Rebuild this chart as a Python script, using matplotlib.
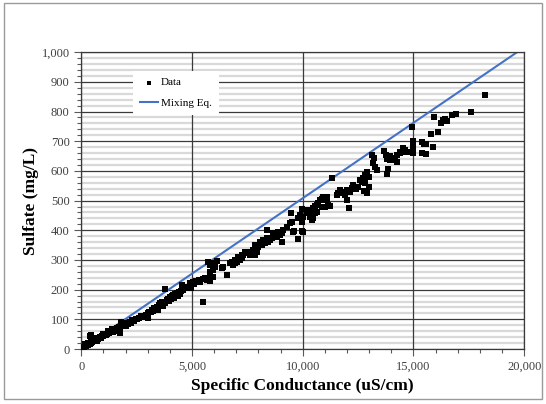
import numpy as np
import matplotlib.pyplot as plt
from matplotlib.patches import Rectangle

plt.rcParams['font.family'] = ['Liberation Serif', 'DejaVu Serif']

# specific conductance (uS/cm) and sulfate (mg/L)
cond = [50, 80, 100, 120, 150, 180, 200, 220, 250, 280, 300, 320, 350, 380, 400, 420,
        450, 480, 500, 520, 550, 600, 620, 650, 700, 720, 750, 800, 850, 900, 950, 1000,
        1050, 1100, 1150, 1200, 1250, 1300, 1350, 1400, 1450, 1500, 1550, 1600, 1650,
        1700, 1750, 1800, 1850, 1900, 1950, 2000,
        150, 300, 500, 700, 900, 1200, 1400, 1600, 1750, 1800, 1850, 400, 450, 1000, 1100, 2000,
        2100, 2200, 2250, 2300, 2400, 2450, 2500, 2600, 2700, 2800, 2900, 3000, 3000, 3050,
        3150, 3200, 3250, 3300, 3400, 3450, 3500, 3550, 3600, 3650, 3700, 3750, 3800, 3770,
        3850, 3900, 3950, 4000, 4050,
        4100, 4150, 4200, 4250, 4300, 4350, 4400, 4450, 4550, 4500, 4600, 4700, 4750, 4880,
        4960, 4900, 5000, 5050, 5100, 5200, 5300, 5350, 5500, 5580, 5660, 5730, 5800, 5500,
        5730, 5800, 5880, 5960, 5820, 6030, 6110, 5890, 5960,
        6330, 6410, 6590, 6710, 6790, 6860, 6940, 6940, 7040, 7090, 7160, 7240, 7390, 7470,
        7090, 7240, 7310, 7390, 7160, 7620, 7690, 7770, 7840, 7840, 7920, 7990, 8070, 8150,
        8220, 8290, 8370, 8370, 8440, 8520, 8600, 8670, 8820, 8900, 8970, 9050, 9050, 9120,
        9270, 9420, 9470, 9500, 9570, 9620, 9780, 9800, 9800, 9880, 9950, 9950, 9980, 10030,
        10030,
        10180, 10250, 10330, 10330, 10400, 10400, 10480, 10480, 10550, 10550, 10630, 10630,
        10700, 10780, 10860, 10860, 10930, 10930, 11010, 11080, 11080, 11160, 11230, 11340,
        11530, 11610, 11680, 11760, 11830, 11910, 11990, 12010, 12110, 12140, 12210, 12290,
        12400, 12500, 12590, 12660, 12740, 12770, 12810, 12810, 12890, 12890, 12970, 13010,
        13120, 13190, 13240, 13270, 13340, 13670, 13760, 13790, 13820, 13870, 13940, 13940,
        14070, 14090, 14170, 14250, 14270, 14400, 14400, 14520, 14520, 14620, 14700,
        14920, 14980, 14980, 14980, 15000, 14950, 15380, 15480, 15570, 15870, 15380, 15570,
        15800, 15930, 16100, 16340, 16250, 16420, 16500, 16730, 16930, 17590, 18220]

sulfate = [3, 5, 8, 6, 10, 12, 9, 14, 13, 16, 20, 15, 18, 22, 17, 24,
           20, 26, 23, 28, 27, 30, 26, 33, 32, 36, 35, 38, 40, 42, 45, 44,
           48, 50, 52, 55, 54, 58, 60, 62, 58, 66, 64, 70, 68, 73, 72, 80, 76, 84, 82, 88,
           18, 12, 30, 28, 36, 60, 68, 62, 55, 90, 88, 45, 47, 50, 46, 78,
           85, 92, 88, 97, 95, 102, 100, 104, 110, 108, 114, 120, 106, 124,
           126, 131, 128, 138, 142, 133, 148, 155, 150, 158, 145, 160, 154, 201,
           165, 170, 162, 176, 168,
           180, 182, 172, 186, 188, 178, 192, 185, 215, 195, 200, 204, 210, 208,
           204, 221, 222, 226, 218, 230, 232, 226, 235, 238, 232, 238, 228, 159,
           294, 283, 289, 266, 260, 277, 296, 243, 243,
           272, 277, 249, 289, 294, 283, 300, 289, 294, 305, 311, 316, 322, 328,
           311, 305, 316, 328, 300, 316, 322, 333, 316, 350, 328, 344, 361, 350,
           367, 356, 373, 401, 361, 367, 373, 390, 378, 395, 384, 390, 361, 401,
           412, 423, 457, 429, 395, 398, 372, 369, 440, 451, 429, 471, 398, 445,
           395,
           457, 468, 445, 468, 434, 462, 474, 443, 481, 457, 462, 485,
           491, 502, 479, 507, 513, 502, 479, 507, 513, 485, 481, 575,
           518, 524, 535, 524, 530, 518, 535, 502, 474, 530, 541, 552,
           540, 545, 569, 563, 575, 533, 586, 558, 597, 526, 580, 546,
           653, 625, 642, 614, 603, 668, 653, 639, 591, 605, 650, 636,
           642, 645, 636, 653, 631, 659, 664, 664, 676, 670, 663,
           748, 680, 670, 660, 700, 665, 696, 690, 689, 681, 659, 657,
           723, 782, 732, 771, 760, 775, 768, 788, 792, 797, 855]

mix_x = [0, 19700]
mix_slope = 0.0508

fig = plt.figure(figsize=(5.46, 4.04), dpi=100)
ax = fig.add_axes([0.149, 0.136, 0.811, 0.735])

ax.set_xlim(0, 20000)
ax.set_ylim(0, 1000)
ax.set_xticks(np.arange(0, 20001, 5000))
ax.set_xticks(np.arange(0, 20001, 1000), minor=True)
ax.set_yticks(np.arange(0, 1001, 100))
ax.set_yticks(np.arange(0, 1001, 20), minor=True)
ax.xaxis.set_major_formatter(plt.FuncFormatter(lambda v, p: f'{int(v):,}'))
ax.yaxis.set_major_formatter(plt.FuncFormatter(lambda v, p: f'{int(v):,}'))

ax.grid(True, which='minor', axis='y', color='#d9d9d9', linewidth=1.6)
ax.grid(True, which='major', axis='both', color='#3a3a3a', linewidth=0.9)
# y axis (with the light minor lines) goes first, x axis with dark verticals on top
ax.yaxis.set_zorder(0.4)
ax.xaxis.set_zorder(0.6)

ax.tick_params(which='major', length=5, width=0.8, color='#595959',
               labelsize=9, labelcolor='#404040')
ax.tick_params(which='minor', length=3, width=0.8, color='#595959')
for s in ax.spines.values():
    s.set_color('#3a3a3a')
    s.set_linewidth(0.9)

ax.scatter(cond, sulfate, marker='s', s=15, color='black', zorder=3,
           linewidths=0, label='Data')
ax.plot(mix_x, [v * mix_slope for v in mix_x], color='#4472C4', lw=1.5,
        zorder=2, label='Mixing Eq.')

ax.set_xlabel('Specific Conductance (uS/cm)', fontsize=12.5, fontweight='bold',
              labelpad=4)
ax.set_ylabel('Sulfate (mg/L)', fontsize=12.5, fontweight='bold', labelpad=2)

leg = ax.legend(loc='upper left', bbox_to_anchor=(0.105, 0.955), fontsize=8,
                frameon=True, fancybox=False, handlelength=1.6,
                borderpad=0.6, labelspacing=1.0, handletextpad=0.3,
                markerscale=0.8)
leg.get_frame().set_facecolor('white')
leg.get_frame().set_edgecolor('none')
leg.get_frame().set_alpha(1)

fig.patches.append(Rectangle((4, 5), 538, 396, transform=None, fill=False,
                             edgecolor='#9a9a9a', linewidth=1))

fig.savefig('out.png', dpi=100)
